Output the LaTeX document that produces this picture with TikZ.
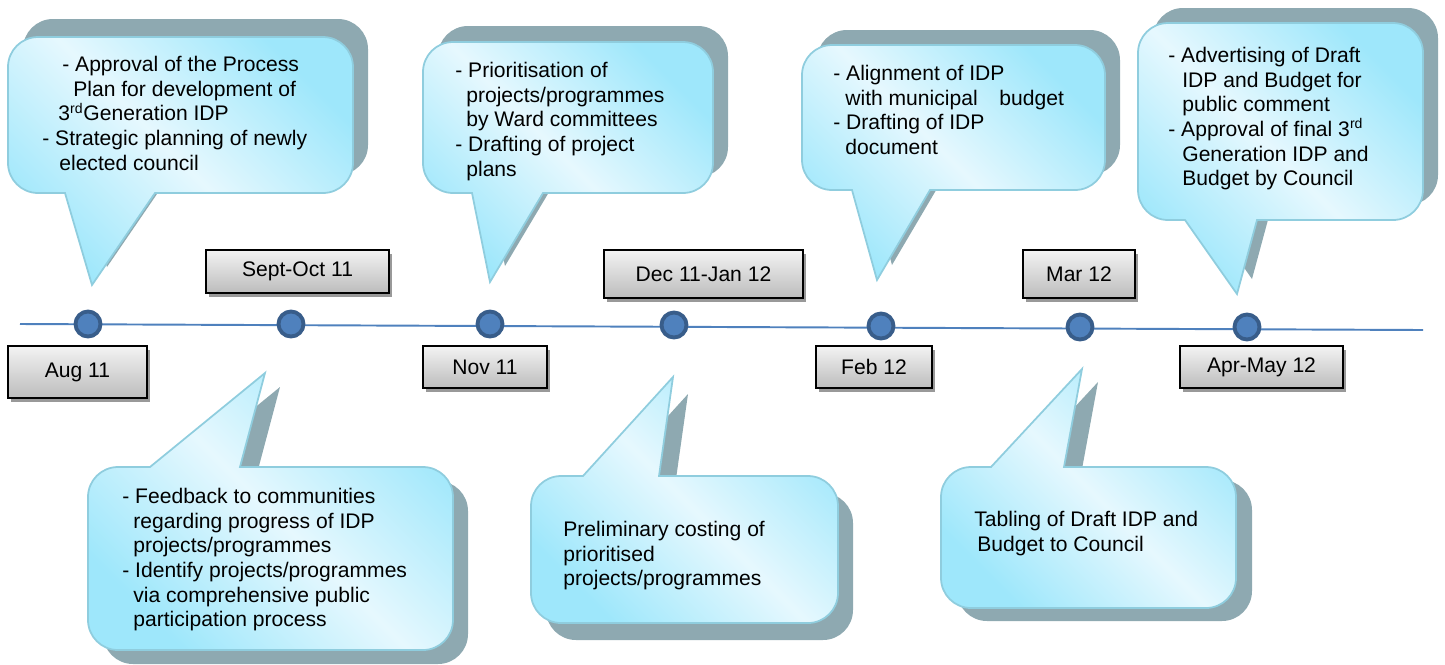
\documentclass[tikz,border=0pt]{standalone}
\usepackage{fontspec}
\setmainfont{Liberation Sans}
\usetikzlibrary{shadows}

\definecolor{bubblecyan}{RGB}{158,231,251}
\definecolor{bubblelight}{RGB}{230,248,254}
\definecolor{bubbleline}{RGB}{143,205,222}
\definecolor{bubbleshade}{RGB}{142,169,177}
\definecolor{lineblue}{RGB}{79,129,189}
\definecolor{dotring}{RGB}{56,93,138}
\definecolor{boxtop}{RGB}{243,243,243}
\definecolor{boxbottom}{RGB}{188,188,188}

\tikzset{
  bubble/.style={draw=bubbleline, line width=1pt, top color=bubblecyan, bottom color=bubblecyan, middle color=bubblelight, shading angle=-45},
  bubble shadow/.style={fill=bubbleshade},
  bubble text/.style={font=\fontsize{12}{14}\selectfont, align=left, anchor=north west, inner sep=0pt},
  datebox/.style={draw=black, line width=1pt, top color=boxtop, bottom color=boxbottom, font=\fontsize{12}{14}\selectfont, inner sep=0pt, drop shadow={shadow xshift=1.5pt, shadow yshift=-2pt, fill=black!40, opacity=1}},
  tldot/.style={circle, draw=dotring, line width=2.2pt, fill=lineblue, minimum size=0.5cm, inner sep=0pt},
  timeline/.style={draw=lineblue, line width=1.1pt}
}

% #1 left, #2 right, #3 edge with the pointer, #4 far edge, #5 #6 pointer base, #7 tip, #8 shadow shift
\newcommand{\bubble}[8]{%
  \path[bubble shadow, shift={#8}] (#5,#3) [rounded corners=0.6cm] -- (#1,#3) -- (#1,#4) -- (#2,#4) -- (#2,#3) [sharp corners] -- (#6,#3) -- #7 -- cycle;
  \path[bubble] (#5,#3) [rounded corners=0.6cm] -- (#1,#3) -- (#1,#4) -- (#2,#4) -- (#2,#3) [sharp corners] -- (#6,#3) -- #7 -- cycle;
}

\begin{document}
\begin{tikzpicture}[x=0.02cm, y=-0.02cm]
\useasboundingbox (0,0) rectangle (1445,664);

% callouts
\bubble{8}{353}{193}{37}{65}{155}{(92,285)}{(15,-18)}
\bubble{88}{453}{467}{650}{150}{240}{(265,373)}{(15,14)}
\bubble{423}{713}{193}{42}{472}{543}{(490,282)}{(15,-16)}
\bubble{531}{838}{476}{623}{583}{659}{(673,377)}{(15,17)}
\bubble{802}{1105}{190}{45}{852}{930}{(877,280)}{(15,-15)}
\bubble{941}{1236}{467}{608}{991}{1064}{(1082,369)}{(16,13)}
\bubble{1138}{1423}{220}{23}{1185}{1257}{(1237,294)}{(15,-15)}

\node[bubble text] (aug text) at (42,56) {\hspace*{0.4cm}- Approval of the Process\\ \hspace*{0.62cm}Plan for development of\\ \hspace*{0.32cm}3\textsuperscript{rd}Generation IDP\\ - Strategic planning of newly\\ \hspace*{0.34cm}elected council};
\node[bubble text] (sep text) at (122,488) {- Feedback to communities\\ \hspace*{0.22cm}regarding progress of IDP\\ \hspace*{0.22cm}projects/programmes\\ - Identify projects/programmes\\ \hspace*{0.22cm}via comprehensive public\\ \hspace*{0.22cm}participation process};
\node[bubble text] (nov text) at (455,62) {- Prioritisation of\\ \hspace*{0.22cm}projects/programmes\\ \hspace*{0.22cm}by Ward committees\\ - Drafting of project\\ \hspace*{0.22cm}plans};
\node[bubble text] (dec text) at (563,521) {Preliminary costing of\\ prioritised\\ projects/programmes};
\node[bubble text] (feb text) at (833,65) {- Alignment of IDP\\ \hspace*{0.24cm}with municipal\hspace{0.75em} budget\\ - Drafting of IDP\\ \hspace*{0.24cm}document};
\node[bubble text] (mar text) at (974,511) {Tabling of Draft IDP and\\ \hspace*{0.06cm}Budget to Council};
\node[bubble text] (apr text) at (1168,47) {- Advertising of Draft\\ \hspace*{0.28cm}IDP and Budget for\\ \hspace*{0.28cm}public comment\\ - Approval of final 3\textsuperscript{rd}\\ \hspace*{0.28cm}Generation IDP and\\ \hspace*{0.28cm}Budget by Council};

% timeline
\coordinate (tl start) at (20,324);
\coordinate (tl end) at (1423,330);
\draw[timeline] (tl start) -- (tl end);
\node[tldot] (aug) at (88,324) {};
\node[tldot] (sep) at (291,324) {};
\node[tldot] (nov) at (490,324) {};
\node[tldot] (dec) at (674,325) {};
\node[tldot] (feb) at (881,326) {};
\node[tldot] (mar) at (1080,327) {};
\node[tldot] (apr) at (1247,327) {};

% dates
\node[datebox, minimum width=2.78cm, minimum height=1.04cm] (aug date) at (77.5,372) {Aug 11};
\node[datebox, minimum width=3.66cm, minimum height=0.86cm] (sep date) at (297.5,271.5) {Sept-Oct 11};
\node[datebox, minimum width=2.48cm, minimum height=0.84cm] (nov date) at (485,367) {Nov 11};
\node[datebox, minimum width=3.98cm, minimum height=0.96cm] (dec date) at (703.5,274) {Dec 11-Jan 12};
\node[datebox, minimum width=2.32cm, minimum height=0.84cm] (feb date) at (874,367) {Feb 12};
\node[datebox, minimum width=2.24cm, minimum height=0.96cm] (mar date) at (1079,274) {Mar 12};
\node[datebox, minimum width=3.26cm, minimum height=0.84cm] (apr date) at (1261.5,367) {Apr-May 12};
\end{tikzpicture}
\end{document}
